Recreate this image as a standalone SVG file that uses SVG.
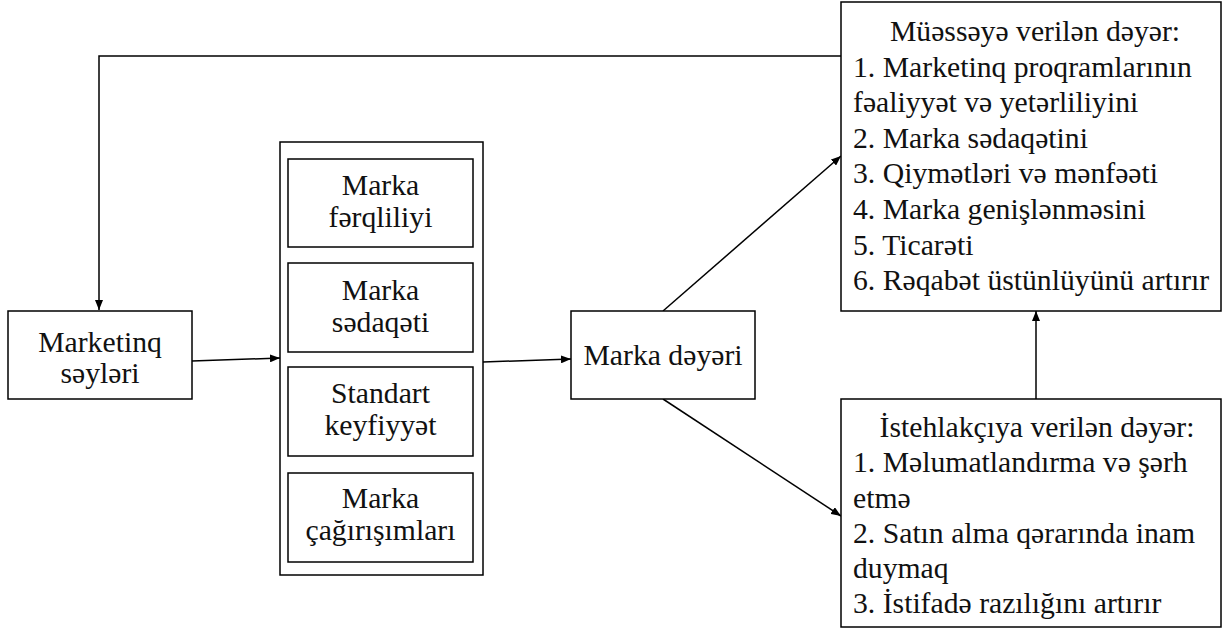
<svg xmlns="http://www.w3.org/2000/svg" width="1223" height="636" viewBox="0 0 1223 636">
<style>
.box{fill:#fff;stroke:#000;stroke-width:1.5}
.t{font-family:'Liberation Serif','Times New Roman',serif;font-size:29.7px;fill:#111}
.c{text-anchor:middle}
.ln{fill:none;stroke:#000;stroke-width:1.5}
</style>
<defs>
<marker id="ah" markerUnits="userSpaceOnUse" markerWidth="10" markerHeight="8" refX="10" refY="4" orient="auto">
<path d="M0,0 L10,4 L0,8 z" fill="#000"/>
</marker>
</defs>
<rect width="1223" height="636" fill="#fff"/>
<g id="connectors">
<path class="ln" d="M841,56 H99 V310" marker-end="url(#ah)"/>
<path class="ln" d="M192,361 L280,358" marker-end="url(#ah)"/>
<path class="ln" d="M483,362 L571,359" marker-end="url(#ah)"/>
<path class="ln" d="M663,311 L841,156" marker-end="url(#ah)"/>
<path class="ln" d="M663,399 L841,516" marker-end="url(#ah)"/>
<path class="ln" d="M1036,399 V311" marker-end="url(#ah)"/>
</g>
<g id="marketinq">
<rect class="box" x="8" y="311" width="184" height="88"/>
<text class="t c" x="100" y="352">Marketinq</text>
<text class="t c" x="100" y="383">səyləri</text>
</g>
<g id="container">
<rect class="box" x="280" y="142" width="203" height="433"/>
</g>
<g id="ferqlilik">
<rect class="box" x="288" y="159" width="185" height="88"/>
<text class="t c" x="380.5" y="195">Marka</text>
<text class="t c" x="380.5" y="227">fərqliliyi</text>
</g>
<g id="sedaqet">
<rect class="box" x="288" y="263" width="185" height="89"/>
<text class="t c" x="380.5" y="300">Marka</text>
<text class="t c" x="380.5" y="332">sədaqəti</text>
</g>
<g id="keyfiyyet">
<rect class="box" x="288" y="367" width="185" height="89"/>
<text class="t c" x="380.5" y="403">Standart</text>
<text class="t c" x="380.5" y="435">keyfiyyət</text>
</g>
<g id="cagirisim">
<rect class="box" x="288" y="473" width="185" height="89"/>
<text class="t c" x="380.5" y="508">Marka</text>
<text class="t c" x="380.5" y="540">çağırışımları</text>
</g>
<g id="marka-deyeri">
<rect class="box" x="571" y="311" width="184" height="88"/>
<text class="t c" x="663" y="365">Marka dəyəri</text>
</g>
<g id="muessise">
<rect class="box" x="841" y="2" width="380" height="309"/>
<text class="t c" x="1035" y="41">Müəssəyə verilən dəyər:</text>
<text class="t" x="853" y="76.6">1. Marketinq proqramlarının</text>
<text class="t" x="853" y="112">fəaliyyət və yetərliliyini</text>
<text class="t" x="853" y="147.6">2. Marka sədaqətini</text>
<text class="t" x="853" y="183">3. Qiymətləri və mənfəəti</text>
<text class="t" x="853" y="219">4. Marka genişlənməsini</text>
<text class="t" x="853" y="254.5">5. Ticarəti</text>
<text class="t" x="853" y="290">6. Rəqabət üstünlüyünü artırır</text>
</g>
<g id="istehlakci">
<rect class="box" x="841" y="399" width="380" height="228"/>
<text class="t c" x="1037" y="437">İstehlakçıya verilən dəyər:</text>
<text class="t" x="853" y="472">1. Məlumatlandırma və şərh</text>
<text class="t" x="853" y="507.5">etmə</text>
<text class="t" x="853" y="542.5">2. Satın alma qərarında inam</text>
<text class="t" x="853" y="578">duymaq</text>
<text class="t" x="853" y="613">3. İstifadə razılığını artırır</text>
</g>
</svg>
